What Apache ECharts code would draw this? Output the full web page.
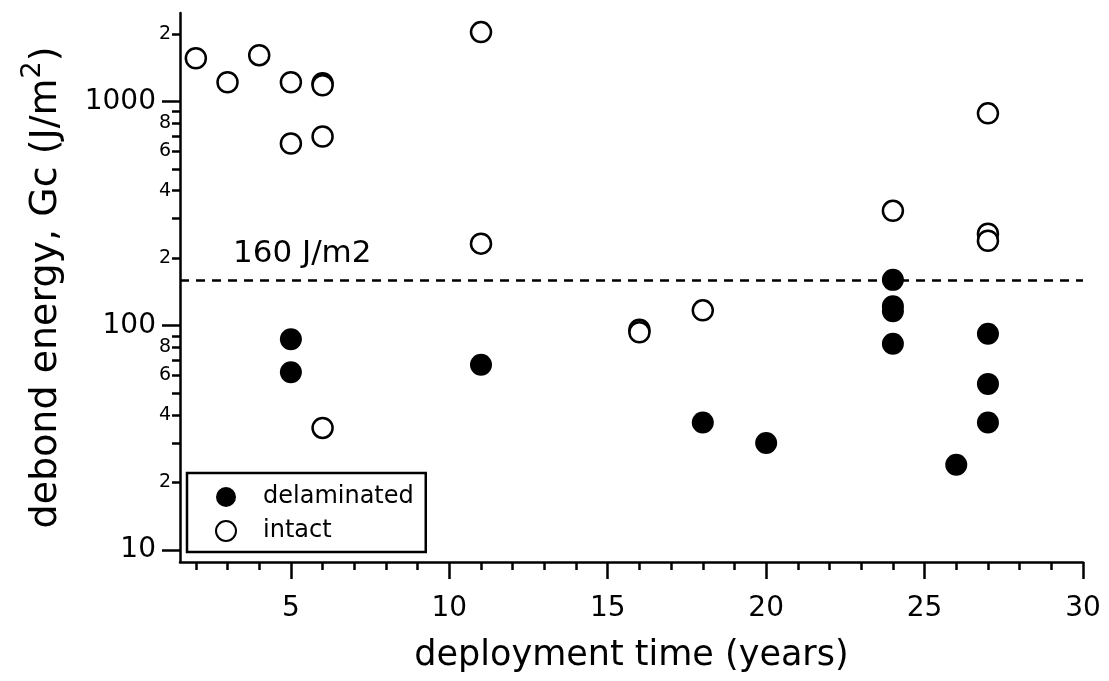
<!DOCTYPE html>
<html>
<head>
<meta charset="utf-8">
<script src="https://cdn.jsdelivr.net/npm/echarts@6/dist/echarts.min.js"></script>
<style>html,body{margin:0;padding:0;background:#fff;}#c{width:1109px;height:681px;}</style>
</head>
<body>
<div id="c"></div>
<script>
// Data
var delaminated = [
  [5, 87], [5, 62], [11, 67], [18, 37], [20, 30],
  [24, 160], [24, 122], [24, 116], [24, 83], [26, 24],
  [27, 92], [27, 55], [27, 37]
];
var intact = [
  [2, 1557], [3, 1216], [4, 1606], [5, 1216], [5, 649],
  [6, 1204], [6, 1179], [6, 697], [6, 35], [11, 2035], [11, 232],
  [16, 96], [16, 93.5], [18, 117], [24, 325], [27, 884], [27, 257], [27, 239]
];
var thresholdValue = 160;
var thresholdLabel = '160 J/m2';
var xMajorTicks = [5, 10, 15, 20, 25, 30];
var xMinorTicks = [2, 3, 4, 6, 7, 8, 9, 11, 12, 13, 14, 16, 17, 18, 19, 21, 22, 23, 24, 26, 27, 28, 29];
var yMajorTicks = [10, 100, 1000];
var yMinorTicks = [20, 30, 40, 50, 60, 70, 80, 90, 200, 300, 400, 500, 600, 700, 800, 900, 2000];
var yMinorLabels = [20, 40, 60, 80, 200, 400, 600, 800, 2000];
var xRange = [1.5, 30];
var yRange = [8.84, 2476];

var FONT = 'DejaVu Sans';
var chart = echarts.init(document.getElementById('c'), null, {renderer: 'canvas'});
var axisLineStyle = {color: '#000', width: 2.5};
chart.setOption({
  animation: false,
  backgroundColor: '#fff',
  grid: {left: 180, right: 26, top: 13, bottom: 119, containLabel: false},
  legend: {
    orient: 'vertical', left: 187, top: 473,
    data: ['delaminated', 'intact'],
    borderColor: '#000', borderWidth: 2.5, borderRadius: 0,
    padding: [12, 12, 9, 28], itemGap: 10,
    itemWidth: 20, itemHeight: 20,
    textStyle: {fontFamily: FONT, fontSize: 24, color: '#000', padding: [0, 0, 0, 22]}
  },
  xAxis: [{
    type: 'value', min: xRange[0], max: xRange[1],
    position: 'bottom',
    axisLine: {show: true, lineStyle: axisLineStyle},
    axisTick: {show: true, inside: false, length: 17, lineStyle: {color: '#000', width: 2.5}, customValues: xMajorTicks},
    axisLabel: {show: true, customValues: xMajorTicks, fontFamily: FONT, fontSize: 28, color: '#000', margin: 33},
    splitLine: {show: false},
    name: 'deployment time (years)', nameLocation: 'middle', nameGap: 76,
    nameTextStyle: {fontFamily: FONT, fontSize: 35, color: '#000'}
  }, {
    type: 'value', min: xRange[0], max: xRange[1],
    position: 'bottom',
    axisLine: {show: false},
    axisTick: {show: true, inside: false, length: 8, lineStyle: {color: '#000', width: 2.5}, customValues: xMinorTicks},
    axisLabel: {show: false},
    splitLine: {show: false}
  }],
  yAxis: [{
    type: 'log', logBase: 10, min: yRange[0], max: yRange[1],
    position: 'left',
    axisLine: {show: true, lineStyle: axisLineStyle},
    axisTick: {show: true, inside: false, length: 18, lineStyle: {color: '#000', width: 2.5}, customValues: yMajorTicks},
    axisLabel: {show: true, customValues: yMajorTicks, fontFamily: FONT, fontSize: 28, color: '#000', margin: 24,
      formatter: function (v) { return String(Math.round(v)); }},
    splitLine: {show: false},
    minorTick: {show: false},
    name: '{a|debond energy, Gc (J/m}{s|2}{a|)}', nameLocation: 'middle', nameGap: 106, nameRotate: 90,
    nameTextStyle: {
      fontFamily: FONT, fontSize: 38, color: '#000',
      rich: {
        a: {fontFamily: FONT, fontSize: 38, color: '#000'},
        s: {fontFamily: FONT, fontSize: 27, color: '#000', padding: [0, 0, 28, 0]}
      }
    }
  }, {
    type: 'log', logBase: 10, min: yRange[0], max: yRange[1],
    position: 'left',
    axisLine: {show: false},
    axisTick: {show: true, inside: false, length: 8, lineStyle: {color: '#000', width: 2.5}, customValues: yMinorTicks},
    axisLabel: {show: true, customValues: yMinorLabels, fontFamily: FONT, fontSize: 19, color: '#000', margin: 9,
      formatter: function (v) { return String(v).charAt(0); }},
    splitLine: {show: false}
  }],
  series: [{
    name: 'delaminated', type: 'scatter', xAxisIndex: 0, yAxisIndex: 0,
    symbol: 'circle', symbolSize: 22,
    itemStyle: {color: '#000', borderColor: '#000', borderWidth: 0, opacity: 1},
    data: delaminated,
    markLine: {
      silent: true, symbol: 'none', animation: false,
      lineStyle: {color: '#000', width: 2.5, type: [9, 7]},
      label: {show: true, position: 'insideStartTop', formatter: thresholdLabel,
        fontFamily: FONT, fontSize: 31, color: '#000', distance: [53, 10]},
      data: [{yAxis: thresholdValue}]
    }
  }, {
    name: 'intact', type: 'scatter', xAxisIndex: 0, yAxisIndex: 0,
    symbol: 'circle', symbolSize: 20,
    itemStyle: {color: '#fff', borderColor: '#000', borderWidth: 2.5, opacity: 1},
    data: intact
  }]
});
</script>
</body>
</html>
